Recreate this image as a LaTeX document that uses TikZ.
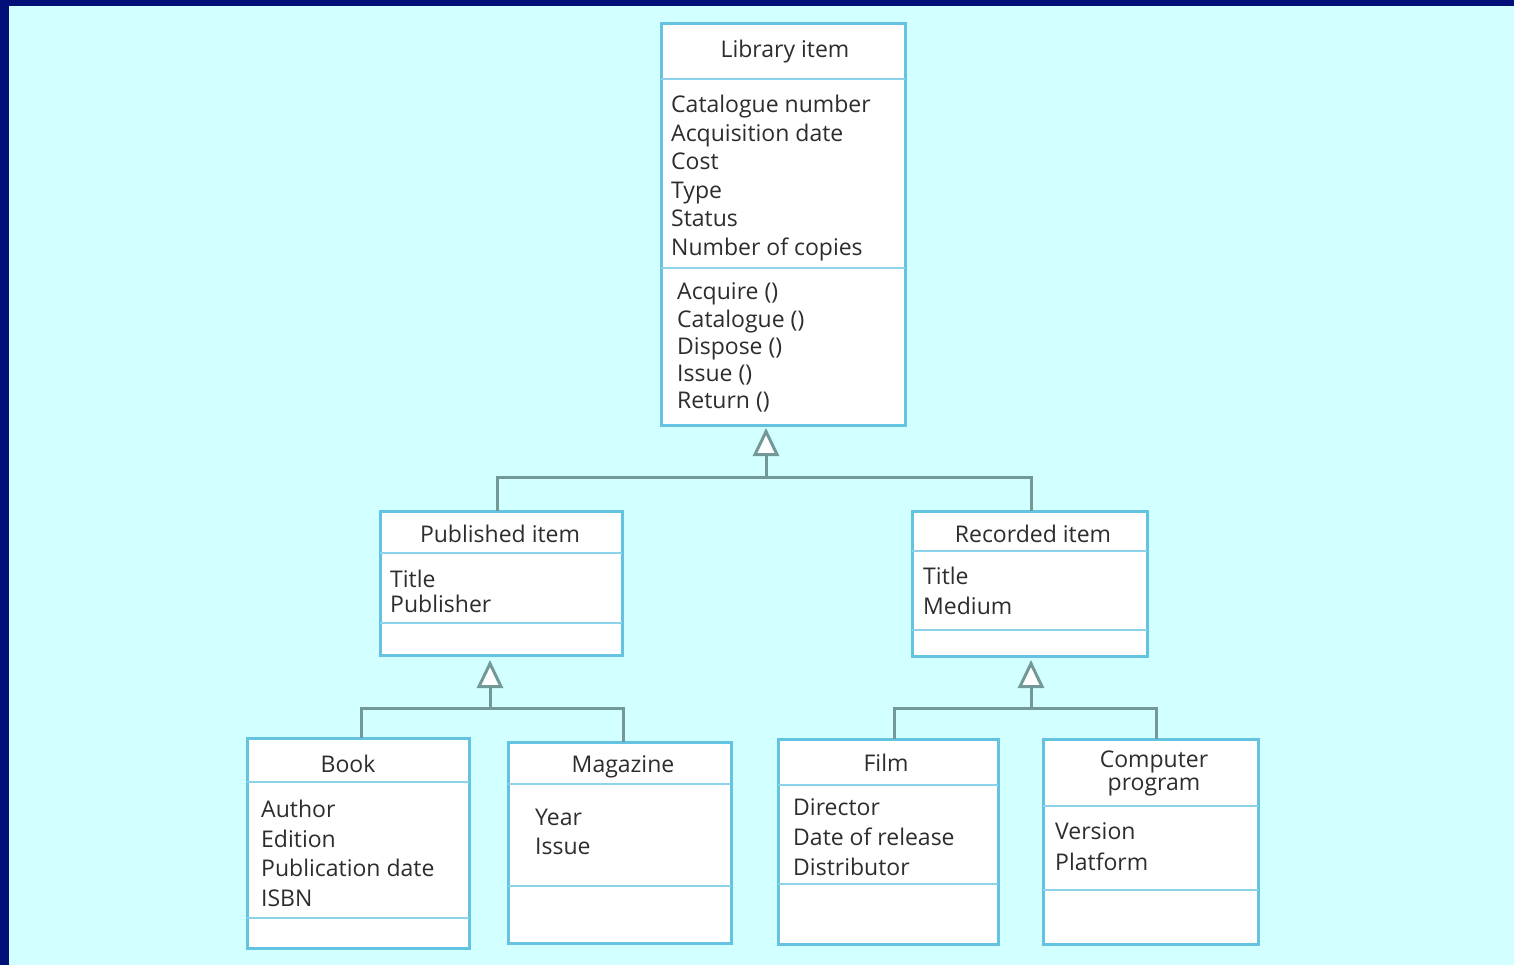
\documentclass[tikz,border=0pt]{standalone}
\usepackage{fontspec}
\setmainfont{Open Sans}
\usetikzlibrary{arrows.meta}
\definecolor{navy}{RGB}{0,16,120}
\definecolor{bgc}{RGB}{210,255,255}
\definecolor{boxc}{RGB}{100,195,225}
\definecolor{sepc}{RGB}{140,210,235}
\definecolor{connc}{RGB}{115,152,152}
\definecolor{textc}{RGB}{45,45,45}
\tikzset{
  cls/.style={draw=boxc, line width=3pt, fill=white, rectangle, inner sep=0pt, outer sep=0pt, anchor=north west},
  sepline/.style={draw=sepc, line width=2.5pt},
  conn/.style={draw=connc, line width=3pt},
  gen/.style={conn, -{Triangle[open, length=28pt, width=26pt, fill=white]}},
  txt/.style={anchor=base west, inner sep=0pt, text=textc, font=\fontsize{23}{27}\selectfont},
  ttl/.style={anchor=base, inner sep=0pt, text=textc, font=\fontsize{23}{27}\selectfont}
}
\begin{document}
\begin{tikzpicture}[x=1pt, y=-1pt]
\useasboundingbox (0,0) rectangle (1514,965);
\fill[navy] (0,0) rectangle (1514,965);
\fill[bgc] (9,6) rectangle (1514,965);

% Library item
\node[cls, minimum width=244pt, minimum height=401pt] (lib) at (661,24) {};
\draw[sepline] (lib.west |- 0,79) -- (lib.east |- 0,79);
\draw[sepline] (lib.west |- 0,268) -- (lib.east |- 0,268);
\node[ttl] (libT) at (785,58) {Library item};
\node[txt] (lib1) at (671,113) {Catalogue number};
\node[txt] (lib2) at (671,141.5) {Acquisition date};
\node[txt] (lib3) at (671,170) {Cost};
\node[txt] (lib4) at (671,198.5) {Type};
\node[txt] (lib5) at (671,227) {Status};
\node[txt] (lib6) at (671,255.5) {Number of copies};
\node[txt] (libm1) at (677,300) {Acquire ()};
\node[txt] (libm2) at (677,327) {Catalogue ()};
\node[txt] (libm3) at (677,354) {Dispose ()};
\node[txt] (libm4) at (677,381) {Issue ()};
\node[txt] (libm5) at (677,408) {Return ()};

% Published item
\node[cls, minimum width=242pt, minimum height=144pt] (pub) at (380,511) {};
\draw[sepline] (pub.west |- 0,553) -- (pub.east |- 0,553);
\draw[sepline] (pub.west |- 0,623) -- (pub.east |- 0,623);
\node[ttl] (pubT) at (500,542) {Published item};
\node[txt] (pub1) at (390,587) {Title};
\node[txt] (pub2) at (390,612) {Publisher};

% Recorded item
\node[cls, minimum width=235pt, minimum height=145pt] (rec) at (912,511) {};
\draw[sepline] (rec.west |- 0,551) -- (rec.east |- 0,551);
\draw[sepline] (rec.west |- 0,630) -- (rec.east |- 0,630);
\node[ttl] (recT) at (1033,542) {Recorded item};
\node[txt] (rec1) at (923,584) {Title};
\node[txt] (rec2) at (923,614) {Medium};

% Book
\node[cls, minimum width=222pt, minimum height=210pt] (book) at (247,738) {};
\draw[sepline] (book.west |- 0,782) -- (book.east |- 0,782);
\draw[sepline] (book.west |- 0,918) -- (book.east |- 0,918);
\node[ttl] (bookT) at (348,772) {Book};
\node[txt] (book1) at (261,817) {Author};
\node[txt] (book2) at (261,847) {Edition};
\node[txt] (book3) at (261,876) {Publication date};
\node[txt] (book4) at (261,906) {ISBN};

% Magazine
\node[cls, minimum width=223pt, minimum height=201pt] (mag) at (508,742) {};
\draw[sepline] (mag.west |- 0,784) -- (mag.east |- 0,784);
\draw[sepline] (mag.west |- 0,886) -- (mag.east |- 0,886);
\node[ttl] (magT) at (623,772) {Magazine};
\node[txt] (mag1) at (535,825) {Year};
\node[txt] (mag2) at (535,854) {Issue};

% Film
\node[cls, minimum width=220pt, minimum height=205pt] (film) at (778,739) {};
\draw[sepline] (film.west |- 0,785) -- (film.east |- 0,785);
\draw[sepline] (film.west |- 0,884) -- (film.east |- 0,884);
\node[ttl] (filmT) at (886,771) {Film};
\node[txt] (film1) at (793,815) {Director};
\node[txt] (film2) at (793,845) {Date of release};
\node[txt] (film3) at (793,875) {Distributor};

% Computer program
\node[cls, minimum width=215pt, minimum height=205pt] (comp) at (1043,739) {};
\draw[sepline] (comp.west |- 0,806) -- (comp.east |- 0,806);
\draw[sepline] (comp.west |- 0,890) -- (comp.east |- 0,890);
\node[ttl] (compT1) at (1154,767) {Computer};
\node[ttl] (compT2) at (1154,790) {program};
\node[txt] (comp1) at (1055,839) {Version};
\node[txt] (comp2) at (1055,870) {Platform};

% Generalisation connectors
\coordinate (j1) at (766,477);
\coordinate (j2) at (490,708);
\coordinate (j3) at (1031,708);
\draw[conn] ([xshift=-4pt]pub.north) |- (j1) -| ([xshift=1.5pt]rec.north);
\draw[gen, shorten >=3pt] (j1) -- (lib.south -| j1);
\draw[conn] ([xshift=3pt]book.north) |- (j2) -| ([xshift=3.5pt]mag.north);
\draw[gen, shorten >=5pt] (j2) -- (pub.south -| j2);
\draw[conn] ([xshift=6pt]film.north) |- (j3) -| ([xshift=5.5pt]comp.north);
\draw[gen, shorten >=4pt] (j3) -- (rec.south -| j3);
\end{tikzpicture}
\end{document}
